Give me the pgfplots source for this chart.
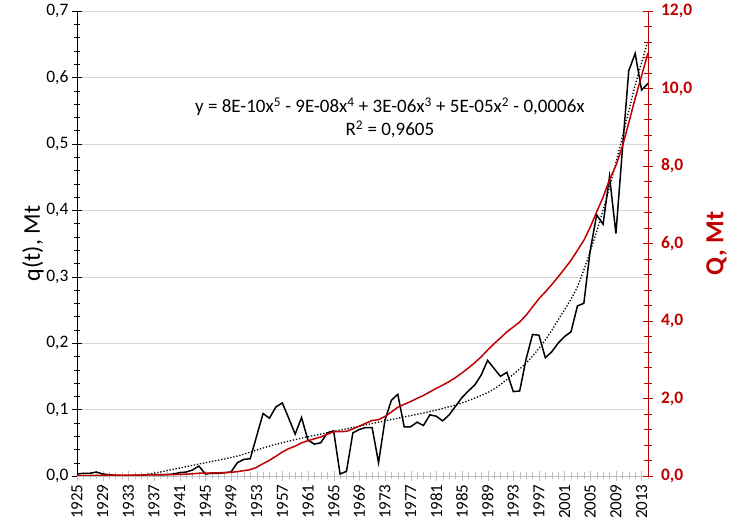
\documentclass[border=0pt]{standalone}
\usepackage{fontspec}
\setmainfont{Carlito}
\usepackage{pgfplots}
\usepackage{pgfplotstable}
\pgfplotsset{compat=1.18}

\definecolor{exred}{HTML}{C00000}
\definecolor{gridgray}{HTML}{D9D9D9}
\definecolor{tickgray}{HTML}{BFBFBF}

% q(t) yearly, Q cumulative
\pgfplotstableread{
year q Q
1925 0.003 0.003
1926 0.004 0.007
1927 0.004 0.011
1928 0.006 0.017
1929 0.003 0.020
1930 0.002 0.022
1931 0.001 0.023
1932 0.000 0.023
1933 0.000 0.023
1934 0.001 0.024
1935 0.001 0.025
1936 0.002 0.027
1937 0.002 0.029
1938 0.002 0.031
1939 0.002 0.033
1940 0.003 0.036
1941 0.005 0.041
1942 0.006 0.047
1943 0.009 0.056
1944 0.015 0.071
1945 0.003 0.074
1946 0.004 0.078
1947 0.004 0.082
1948 0.005 0.087
1949 0.006 0.093
1950 0.020 0.113
1951 0.025 0.138
1952 0.026 0.164
1953 0.060 0.224
1954 0.094 0.318
1955 0.087 0.405
1956 0.104 0.509
1957 0.110 0.619
1958 0.087 0.706
1959 0.063 0.769
1960 0.088 0.857
1961 0.054 0.911
1962 0.048 0.959
1963 0.050 1.009
1964 0.065 1.074
1965 0.068 1.142
1966 0.003 1.145
1967 0.007 1.152
1968 0.065 1.217
1969 0.070 1.287
1970 0.073 1.360
1971 0.073 1.433
1972 0.020 1.453
1973 0.084 1.537
1974 0.114 1.651
1975 0.123 1.774
1976 0.074 1.848
1977 0.074 1.922
1978 0.081 2.003
1979 0.076 2.079
1980 0.092 2.171
1981 0.090 2.261
1982 0.083 2.344
1983 0.092 2.436
1984 0.105 2.541
1985 0.118 2.659
1986 0.128 2.787
1987 0.137 2.924
1988 0.152 3.076
1989 0.174 3.250
1990 0.162 3.412
1991 0.150 3.562
1992 0.156 3.718
1993 0.127 3.845
1994 0.128 3.973
1995 0.176 4.149
1996 0.213 4.362
1997 0.212 4.574
1998 0.178 4.752
1999 0.187 4.939
2000 0.200 5.139
2001 0.210 5.349
2002 0.217 5.566
2003 0.256 5.822
2004 0.260 6.082
2005 0.340 6.422
2006 0.393 6.815
2007 0.379 7.194
2008 0.451 7.645
2009 0.365 8.010
2010 0.490 8.500
2011 0.610 9.110
2012 0.636 9.746
2013 0.581 10.327
2014 0.591 10.918
}\prodtable

% polynomial trend
\pgfplotstableread{
year trend
1925 -0.001
1930 -0.001
1935 0.001
1940 0.010
1945 0.020
1950 0.030
1955 0.045
1960 0.057
1965 0.067
1970 0.077
1975 0.087
1980 0.097
1985 0.110
1990 0.131
1995 0.170
1998 0.205
2000 0.235
2003 0.285
2006 0.368
2008 0.435
2010 0.510
2012 0.588
2014 0.655
}\trendtable

\begin{document}
\begin{tikzpicture}
\useasboundingbox (-77pt,-48pt) rectangle (652pt,476pt);

\begin{axis}[
    width=571pt, height=465pt, scale only axis,
    xmin=1925, xmax=2014,
    ymin=0, ymax=0.7,
    axis y line*=left, axis x line*=bottom,
    y axis line style={black},
    x axis line style={draw=tickgray},
    xtick={1925,1929,...,2013},
    minor xtick={1925,1926,...,2014},
    ytick={0,0.1,...,0.7},
    minor y tick num=4,
    tick align=center,
    major tick length=10pt, minor tick length=7pt,
    xtick style={draw=tickgray},
    ytick style={draw=black},
    ymajorgrids, major grid style={gridgray},
    /pgf/number format/assume math mode=true,
    xticklabel style={rotate=90, anchor=east, font=\fontsize{17}{17}\selectfont,
        /pgf/number format/1000 sep={}},
    yticklabel style={font=\fontsize{17.5}{17.5}\selectfont,
        /pgf/number format/.cd, use comma, fixed, fixed zerofill, precision=1},
    ylabel={q(t), Mt},
    ylabel style={at={(axis description cs:-0.077,0.5)}, anchor=center,
        font=\fontsize{24}{24}\selectfont},
]
\addplot[black, line width=1.5pt] table[x=year, y=q] {\prodtable};
\addplot[black, line width=1.3pt, dash pattern=on 1.3pt off 1.8pt, smooth] table[x=year, y=trend] {\trendtable};
\node[align=center, font=\fontsize{19}{23}\selectfont] at (rel axis cs:0.548,0.77)
    {y = 8E-10x\textsuperscript{5} - 9E-08x\textsuperscript{4} + 3E-06x\textsuperscript{3} + 5E-05x\textsuperscript{2} - 0,0006x\\
     R\textsuperscript{2} = 0,9605};
\end{axis}

\begin{axis}[
    width=571pt, height=465pt, scale only axis,
    xmin=1925, xmax=2014,
    ymin=0, ymax=12,
    axis x line=none,
    axis y line*=right,
    y axis line style={exred, line width=0.8pt},
    ytick={0,2,...,12},
    minor y tick num=4,
    tick align=center,
    major tick length=11pt, minor tick length=8pt,
    ytick style={draw=exred, line width=0.8pt},
    /pgf/number format/assume math mode=true,
    yticklabel style={text=exred, font=\fontsize{17.5}{17.5}\selectfont\bfseries, xshift=4pt,
        /pgf/number format/.cd, use comma, fixed, fixed zerofill, precision=1},
    ylabel={Q, Mt},
    ylabel style={at={(axis description cs:1.12,0.5)}, anchor=center, text=exred,
        font=\fontsize{26}{26}\selectfont\bfseries},
]
\addplot[exred, line width=1.5pt] table[x=year, y=Q] {\prodtable};
\end{axis}
\end{tikzpicture}
\end{document}
